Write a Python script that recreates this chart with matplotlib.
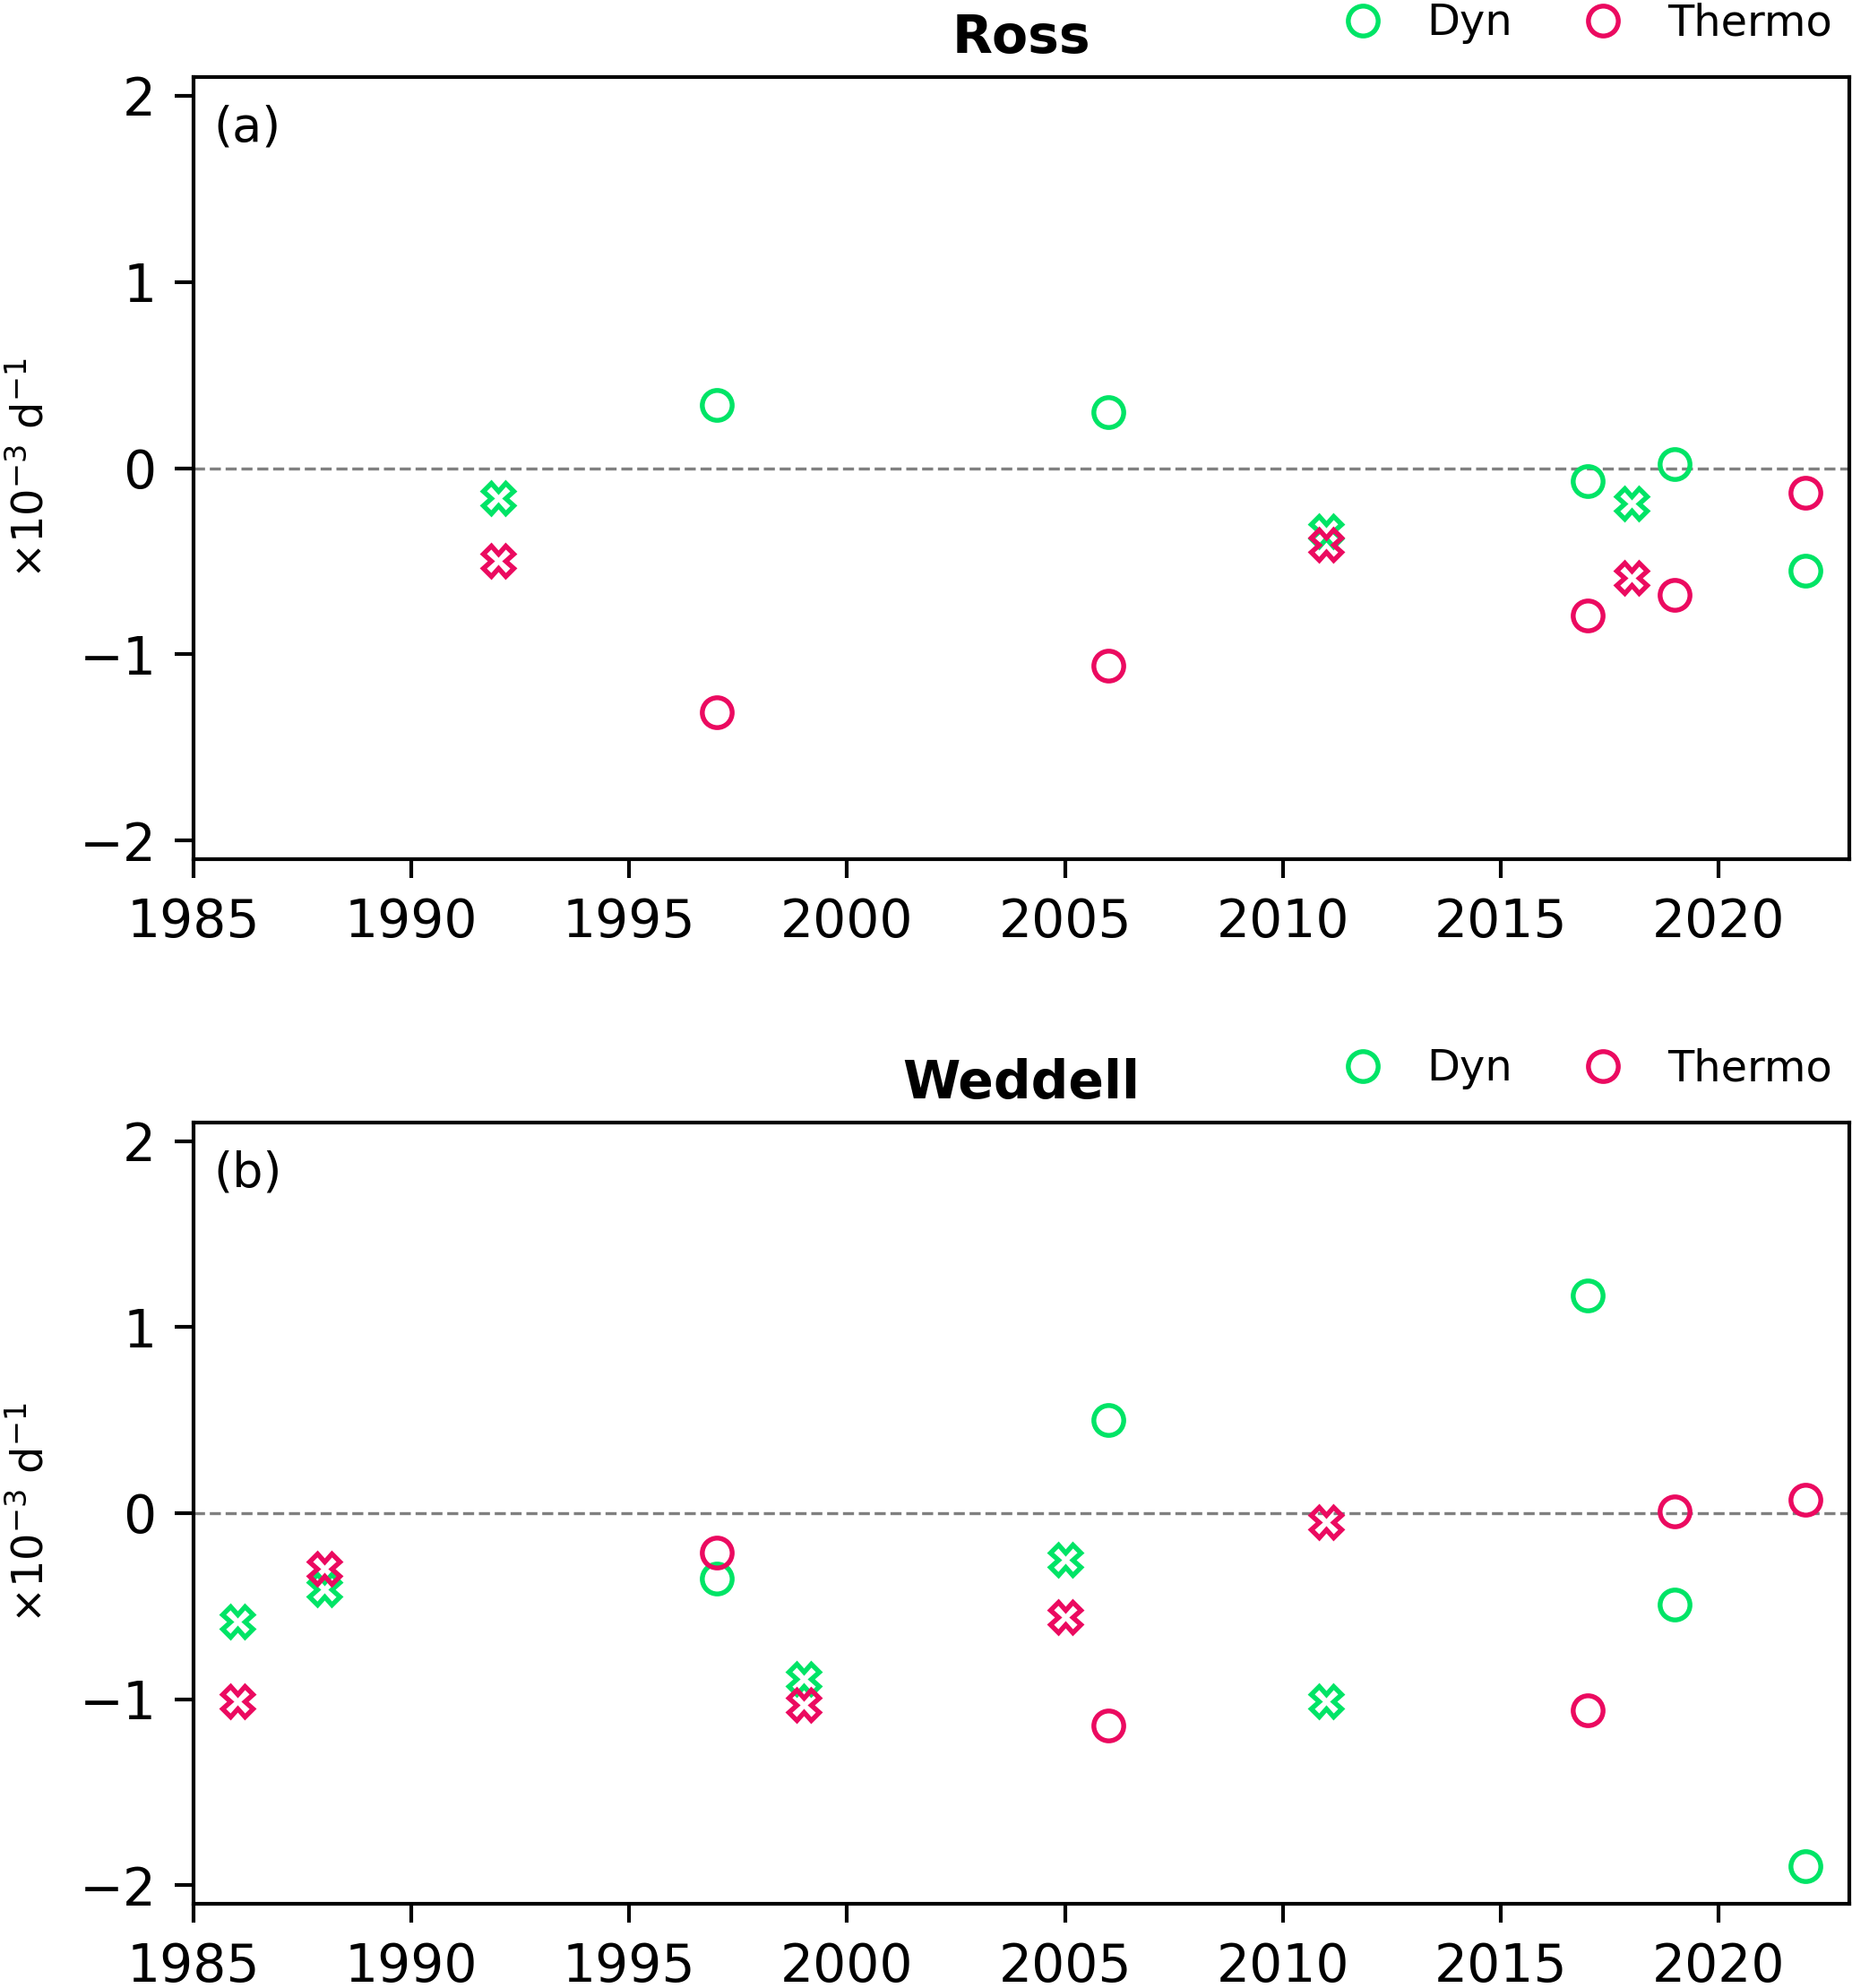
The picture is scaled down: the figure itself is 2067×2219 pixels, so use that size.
import numpy as np
import matplotlib
matplotlib.use("Agg")
import matplotlib.pyplot as plt

# Ross (a)
ross_circ_years = [1997, 2006, 2017, 2019, 2022]
ross_circ_dyn = [0.34, 0.30, -0.07, 0.02, -0.55]
ross_circ_thermo = [-1.31, -1.06, -0.79, -0.68, -0.13]
ross_x_years = [1992, 2011, 2018]
ross_x_dyn = [-0.16, -0.34, -0.19]
ross_x_thermo = [-0.50, -0.41, -0.59]

# Weddell (b)
wed_circ_years = [1997, 2006, 2017, 2019, 2022]
wed_circ_dyn = [-0.35, 0.50, 1.17, -0.49, -1.90]
wed_circ_thermo = [-0.21, -1.14, -1.06, 0.01, 0.07]
wed_x_years = [1986, 1988, 1999, 2005, 2011]
wed_x_dyn = [-0.585, -0.41, -0.89, -0.25, -1.01]
wed_x_thermo = [-1.01, -0.30, -1.03, -0.56, -0.05]

GREEN = '#00e466'
PINK = '#eb0a60'

fig = plt.figure(figsize=(2067 / 300, 2219 / 300), dpi=300)
ax_a = fig.add_axes([0.1045, 0.5678, 0.894, 0.3934])
ax_b = fig.add_axes([0.1045, 0.0424, 0.894, 0.3929])

panels = [
    (ax_a, 'Ross', '(a)', ross_circ_years, ross_circ_dyn, ross_circ_thermo,
     ross_x_years, ross_x_dyn, ross_x_thermo),
    (ax_b, 'Weddell', '(b)', wed_circ_years, wed_circ_dyn, wed_circ_thermo,
     wed_x_years, wed_x_dyn, wed_x_thermo),
]

for ax, title, tag, cy, cd, ct, xy, xd, xt in panels:
    ax.axhline(0, color='grey', linestyle='--', linewidth=0.8, zorder=1)
    ax.plot(cy, cd, 'o', mfc='none', mec=GREEN, ms=8, mew=1.3, linestyle='none', label='Dyn')
    ax.plot(cy, ct, 'o', mfc='none', mec=PINK, ms=8, mew=1.3, linestyle='none', label='Thermo')
    ax.plot(xy, xd, 'X', mfc='none', mec=GREEN, ms=8, mew=1.3, linestyle='none')
    ax.plot(xy, xt, 'X', mfc='none', mec=PINK, ms=8, mew=1.3, linestyle='none')

    ax.set_xlim(1985, 2023)
    ax.set_ylim(-2.1, 2.1)
    ax.set_xticks(np.arange(1985, 2021, 5))
    ax.set_yticks([-2, -1, 0, 1, 2])
    ax.tick_params(labelsize=14, width=1.0, length=5, pad=5)
    for s in ax.spines.values():
        s.set_linewidth(1.0)

    ax.set_title(title, fontsize=14, fontweight='bold', pad=6.5)
    ax.text(0.012, 0.965, tag, transform=ax.transAxes, ha='left', va='top', fontsize=13)
    ax.set_ylabel(r'$\times10^{-3}$ d$^{-1}$', fontsize=11.5)
    ax.yaxis.set_label_coords(-0.085, 0.5)
    ax.legend(loc='lower right', bbox_to_anchor=(1.0, 1.02), ncol=2, frameon=False,
              fontsize=11.5, borderaxespad=0, handletextpad=0.5, columnspacing=1.1)

fig.savefig('out.png', dpi=300)
